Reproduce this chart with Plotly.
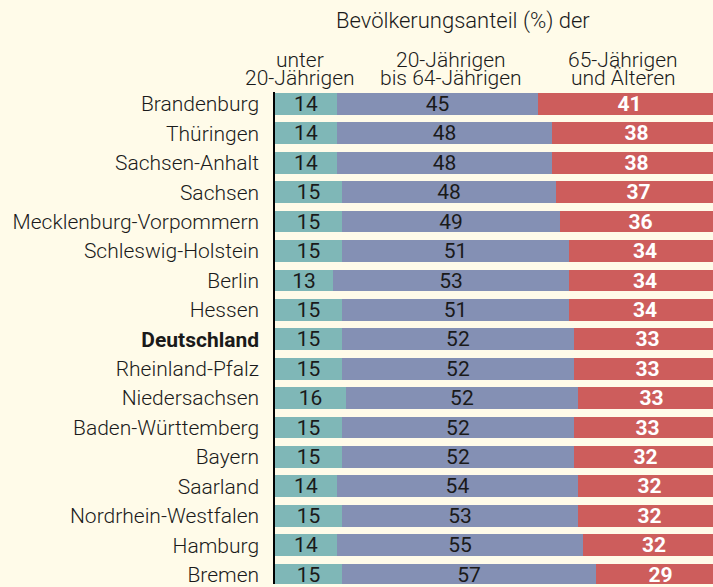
import plotly.graph_objects as go

# Bevölkerungsanteil nach Altersgruppen je Bundesland (%)
laender = [
    "Brandenburg", "Thüringen", "Sachsen-Anhalt", "Sachsen",
    "Mecklenburg-Vorpommern", "Schleswig-Holstein", "Berlin", "Hessen",
    "Deutschland", "Rheinland-Pfalz", "Niedersachsen", "Baden-Württemberg",
    "Bayern", "Saarland", "Nordrhein-Westfalen", "Hamburg", "Bremen",
]
unter_20 = [14, 14, 14, 15, 15, 15, 13, 15, 15, 15, 16, 15, 15, 14, 15, 14, 15]
von_20_bis_64 = [45, 48, 48, 48, 49, 51, 53, 51, 52, 52, 52, 52, 52, 54, 53, 55, 57]
ab_65 = [41, 38, 38, 37, 36, 34, 34, 34, 33, 33, 33, 33, 32, 32, 32, 32, 29]

titel = "Bevölkerungsanteil (%) der"
gruppen = [("unter", "20-Jährigen"), ("20-Jährigen", "bis 64-Jährigen"), ("65-Jährigen", "und Älteren")]

BG = "#FFFBE9"
FONT = "Roboto"
INK = "#1a1a1a"
TEAL = "#7FB7B7"
BLUE = "#8490B4"
RED = "#CD5D5C"

pos = list(range(len(laender)))
ticktext = [f"<b>{n}</b>" if n == "Deutschland" else n for n in laender]

fig = go.Figure()
for werte, farbe, txtfarbe, fett in [
    (unter_20, TEAL, INK, False),
    (von_20_bis_64, BLUE, INK, False),
    (ab_65, RED, "white", True),
]:
    fig.add_trace(go.Bar(
        y=pos, x=werte, orientation="h", marker=dict(color=farbe, line=dict(width=0)),
        width=0.74,
        text=[f"<b>{v}</b>" if fett else str(v) for v in werte],
        textposition="inside", insidetextanchor="middle", textangle=0,
        textfont=dict(family=FONT, size=21, color=txtfarbe),
        constraintext="none", cliponaxis=True, hoverinfo="skip",
    ))

# Kopfzeilen in Pixelkoordinaten
W, H, L, T = 713, 587, 275, 92
pw, ph = W - L, H - T
def px_x(x):
    return (x - L) / pw
def px_y(y):
    return (H - y) / ph

annos = [dict(text=titel, x=px_x(463), y=px_y(21), font=dict(size=22))]
for (z1, z2), cx in zip(gruppen, [300, 451, 623]):
    annos.append(dict(text=z1, x=px_x(cx), y=px_y(60)))
    annos.append(dict(text=z2, x=px_x(cx), y=px_y(78)))
for a in annos:
    size = a.get("font", {}).get("size", 21)
    a.update(xref="paper", yref="paper", showarrow=False, xanchor="center",
             yanchor="middle", valign="middle",
             font=dict(family=FONT, size=size, color=INK, weight=300))

fig.update_layout(
    barmode="stack", width=W, height=H, showlegend=False,
    margin=dict(l=L, r=0, t=T, b=0, pad=0),
    paper_bgcolor=BG, plot_bgcolor=BG,
    bargap=0, annotations=annos,
    uniformtext=dict(mode=False),
    xaxis=dict(range=[0, pw / 4.46], visible=False, fixedrange=True),
    yaxis=dict(range=[16.32, -0.405], tickmode="array", tickvals=pos, ticktext=ticktext,
               showgrid=False, zeroline=False, showline=True, linecolor="black", linewidth=1.5,
               ticks="outside", ticklen=10, tickcolor=BG, ticklabeloverflow="allow",
               tickfont=dict(family=FONT, size=21, color=INK, weight=300)),
)
fig.write_html("out.html")
